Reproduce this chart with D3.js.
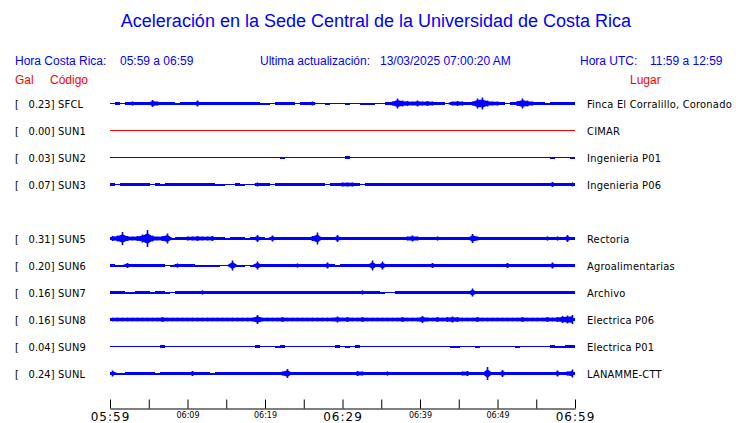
<!DOCTYPE html>
<html>
<head>
<meta charset="utf-8">
<script src="https://cdn.jsdelivr.net/npm/d3@7/dist/d3.min.js"></script>
<style>
  html, body { margin: 0; padding: 0; background: #fff; }
  svg { display: block; }
  .cond { font-family: "DejaVu Sans Condensed", "DejaVu Sans", sans-serif; font-stretch: condensed; }
  .sans { font-family: "Liberation Sans", Arial, sans-serif; }
</style>
</head>
<body>
<script>
// ---------------- DATA ----------------
const title = "Aceleración en la Sede Central de la Universidad de Costa Rica";
const horaCR = "05:59 a 06:59";
const ultima = "13/03/2025 07:00:20 AM";
const horaUTC = "11:59 a 12:59";

const codes = ["SFCL","SUN1","SUN2","SUN3","SUN4","SUN5","SUN6","SUN7","SUN8","SUN9","SUNL"];
const galValues = [0.23, 0.00, 0.03, 0.07, null, 0.31, 0.20, 0.16, 0.16, 0.04, 0.24];
const places = ["Finca El Corralillo, Coronado","CIMAR","Ingenieria P01","Ingenieria P06", null,
                "Rectoria","Agroalimentarias","Archivo","Electrica P06","Electrica P01","LANAMME-CTT"];

// envelope (half amplitude) of each record, sampled along the hour 05:59-06:59
const envSFCL = [0,1.5,0,1.5,2,1.5,1.5,1.5,3.5,2,
  1.5,1.5,1.5,1,1.5,1.5,1.5,3,1.5,1.5,
  1.5,1.5,1.5,1.5,1.5,1.5,1.5,1.5,1.5,1.5,
  1,1,0,1.5,1.5,1.5,1.5,0,1.5,1.5,
  2,0,0,1,0,0,0,1,0,0,
  1,1,1,0,0,1.5,2,5,3,2.5,
  2,3,2,2.5,2,1.5,1.5,0.5,2,2.5,
  2,1.5,2,5,6,3,2,2,1.5,0.5,
  1.5,2.5,5,3,2,1.5,1.5,1,1.5,1.5,
  1.5,1.5,1.5];
const envSUN1 = [0,0,0,0,0,0,0,0,0,0, 0,0,0,0,0,0,0,0,0,0, 0,0,0,0,0,0,0,0,0,0,
  0,0,0,0,0,0,0,0,0,0, 0,0,0,0,0,0,0,0,0,0, 0,0,0,0,0,0,0,0,0,0,
  0,0,0,0,0,0,0,0,0,0, 0,0,0,0,0,0,0,0,0,0, 0,0,0,0,0,0,0,0,0,0, 0,0,0];
const envSUN2 = [0,0,0,0,0,0,0,0,0,0, 0,0,0,0,0,0,0,0,0,0, 0,0,0,0,0,0,0,0,0,0,
  0,0,0,0,1,0,0,0,0,0, 0,0,0,0,0,0,0.5,1.5,0,0, 0,0,0,0,0,0,0,0,0,0,
  0,0,0,0,0,0,0,0,0,0.5, 0,0,0,0.7,0,0,0,0,0,0, 0,0,0,0,0,0,0,0,1,0, 0,0,1];
const envSUN3 = [1.5,0.5,1.5,1.5,1.5,1.5,1.5,1.5,0.5,1.5,
  1,1.5,1.5,1.5,1.5,1.5,1.5,1.5,1.5,1.5,
  1.5,1,1,0.5,0,1.5,1,0,0,2,
  1.5,1.5,0.5,1.5,1.5,1.5,1.5,1.5,1.5,1.5,
  1.5,1.5,1.5,0.5,1.5,1.5,2,2,2,1.5,
  0.5,1.5,1.5,1.5,1.5,1.5,1.5,1.5,1.5,1.5,
  1.5,1.5,1.5,1.5,1.5,1.5,1.5,1.5,1.5,1.5,
  1.5,1.5,1.5,1.5,1.5,1.5,1.5,1.5,1.5,1.5,
  1.5,1.5,1.5,1.5,1.5,1.5,1.5,1.5,2.5,1.5,
  1.5,1.5,2];
const envSUN5 = [2.5,3,6.5,2.5,2,2.5,4,8.5,3,2,
  2.5,5,1,1.5,1.5,2,2,2.5,2,2,
  2.5,1.5,1.5,1,1.5,1.5,1.5,1,1.5,3.5,
  1.5,1,3,1.5,1.5,1.5,1.5,1.5,1.5,1.5,
  2.5,6,1.5,1.5,1.5,3.5,1.5,1.5,1.5,1.5,
  1.5,1.5,1.5,1.5,1.5,1.5,1.5,1.5,1.5,2,
  3,2,1.5,1.5,1.5,2,1.5,1.5,1.5,1.5,
  1.5,1.5,4.5,2,1.5,1.5,1.5,1.5,1.5,1.5,
  1.5,1.5,1.5,1.5,1.5,1.5,1.5,2,1.5,2,
  1.5,3.5,1.5];
const envSUN6 = [1.5,1,1,2.5,1.5,1.5,1.5,1.5,1.5,1.5,
  1.5,0.5,1,2,1.5,1.5,1.5,1,1,1,
  1,1,0.5,0.5,5,1,1,0.5,1,4,
  1.5,1.5,1.5,1.5,1.5,1.5,1.5,2,1.5,1.5,
  1.5,1.5,1.5,3,1.5,1,1.5,1.5,1.5,1.5,
  1.5,1.5,5,1.5,4,1.5,1.5,1.5,1.5,1.5,
  1.5,1.5,1.5,1.5,2.5,1.5,1.5,1.5,1.5,1.5,
  1.5,1.5,1.5,1.5,1.5,1.5,1.5,1.5,1.5,2.5,
  1.5,1.5,1.5,1.5,1.5,1.5,1.5,1.5,3,1.5,
  1.5,1.5,1.5];
const envSUN7 = [1.5,1.5,1.5,1,1,1.5,1.5,1.5,1,1.5,
  1.5,1,0.5,1.5,1.5,1.5,1.5,1.5,2,1.5,
  1.5,1.5,1.5,1.5,1.5,1.5,1.5,1.5,1.5,1.5,
  1.5,1.5,1.5,1.5,1.5,1.5,1.5,1.5,1.5,1.5,
  1.5,1.5,1.5,1.5,1.5,1.5,1.5,1.5,1.5,1.5,
  2,1.5,1.5,1.5,1,0,0.5,1.5,1.5,1.5,
  1.5,1.5,1.5,1.5,1.5,1.5,1.5,1.5,1.5,1.5,
  1.5,1.5,4,1.5,1.5,1.5,1.5,1.5,1.5,1.5,
  1.5,1.5,1.5,1.5,1.5,1.5,1.5,1.5,1.5,1.5,
  1.5,1.5,1.5];
const envSUN8 = [1.8,1.8,1.8,1.8,1.8,1.8,1.8,1.8,1.8,1.8,
  2.5,1.8,1.8,1.8,1.8,1.8,1.8,1.8,1.8,1.8,
  1.8,1.8,1.8,1.8,1.8,1.8,1.8,1.8,1.8,4.5,
  1.8,1.8,1.8,1.8,2.5,1.8,1.8,1.8,1.8,1.8,
  1.8,1.8,1.8,1.8,1.8,3,1.8,2.5,1.8,1.8,
  2.5,1.8,1.8,1.8,1.8,1.8,1.8,1.8,2.5,1.8,
  1.8,1.8,3.5,2,1.8,2.5,1.8,2.5,3,2.5,
  1.8,1.8,1.8,2.5,1.8,1.8,1.8,1.8,1.8,1.8,
  1.8,1.8,2.5,1.8,1.8,1.8,1.8,2.5,2,2.5,
  3.5,4,4.5];
const envSUN9 = [0,0,0,0,0,0,0,0,0,0, 1.5,0,0,0,0,0,0,0,0,0, 0,0,0,0,0,0,0,0,0,1.2,
  0,0,0,1,1.5,0,0,0,0,0, 0,0,0,0,0,1.5,0.5,1,0.5,1.2, 0,0,0,0,0,0,0,0,0,0,
  0,0,0,0,0,0,0,0,1,1, 0,0,0,1,0,0,0,0,0,0, 0,1,0,0,0,0,0,0,1.5,1, 1,1.2,1.2];
const envSUNL = [3,1,1,1.5,1.5,1.5,1.5,1.5,1.5,1,
  1.5,1.5,1.5,1.5,1.5,1.5,2.5,1.5,1.5,1.5,
  1,1.5,1.5,1.5,1.5,1.5,1.5,1.5,1.5,1.5,
  1.5,1.5,1.5,1.5,2,4.5,1.5,1.5,1.5,1.5,
  1.5,1.5,1.5,1.5,1.5,1.5,1.5,1.5,1.5,2.5,
  2,1.5,1.5,1.5,1.5,2,1.5,1.5,1.5,1.5,
  1.5,1.5,1.5,1.5,1.5,1.5,1.5,1.5,1.5,1.5,
  2,2.5,1.5,1.5,1.5,6.5,1.5,1.5,3.5,1.5,
  1.5,1.5,1.5,1.5,1.5,1.5,1.5,1.5,1.5,3,
  1.5,2,4];
const envelopes = [envSFCL, envSUN1, envSUN2, envSUN3, null, envSUN5, envSUN6, envSUN7, envSUN8, envSUN9, envSUNL];

const startTime = "05:59", endTime = "06:59";
const axisTicks = ["05:59","06:04","06:09","06:14","06:19","06:24","06:29","06:34","06:39","06:44","06:49","06:54","06:59"];
const labeledTicks = ["05:59","06:09","06:19","06:29","06:39","06:49","06:59"];
const bigTicks = ["05:59","06:29","06:59"];

// ---------------- CHART ----------------
const W = 740, H = 423;
const svg = d3.select("body").append("svg").attr("width", W).attr("height", H);
const parse = d3.timeParse("%H:%M");
const fmt = d3.timeFormat("%H:%M");
const t0 = parse(startTime), t1 = parse(endTime);

const x = d3.scaleTime().domain([t0, t1]).range([110, 575]);
const y = d3.scalePoint().domain(codes).range([103.5, 373.5]);
const amp = d3.scaleLinear().domain([0, 1]).range([0, 1]);
const BASE = 1.5; // background noise band drawn as blocks; larger peaks drawn as spikes

const BLUE = "#0000ff", RED = "#ff0000";

// title
svg.append("text").attr("class", "sans").attr("x", 376).attr("y", 27)
  .attr("text-anchor", "middle").attr("font-size", 18).attr("fill", BLUE).text(title);

// header
const hdr = svg.append("g").attr("class", "sans").attr("font-size", 12).attr("fill", BLUE);
hdr.append("text").attr("x", 15).attr("y", 65).text("Hora Costa Rica:");
hdr.append("text").attr("x", 120).attr("y", 65).text(horaCR);
hdr.append("text").attr("x", 260).attr("y", 65).text("Ultima actualización:");
hdr.append("text").attr("x", 380).attr("y", 65).text(ultima);
hdr.append("text").attr("x", 580).attr("y", 65).text("Hora UTC:");
hdr.append("text").attr("x", 650).attr("y", 65).text(horaUTC);

const sub = svg.append("g").attr("class", "sans").attr("font-size", 12).attr("fill", RED);
sub.append("text").attr("x", 15).attr("y", 84).text("Gal");
sub.append("text").attr("x", 50).attr("y", 84).text("Código");
sub.append("text").attr("x", 630).attr("y", 84).text("Lugar");

// records
const rows = codes.map((c, i) => ({ code: c, gal: galValues[i], place: places[i], env: envelopes[i] }))
  .filter(d => d.env);

const stepArea = d3.area().curve(d3.curveStepAfter);
const peakArea = d3.area().curve(d3.curveLinear);

rows.forEach(r => {
  const n = r.env.length;
  const span = (t1 - t0) / n;
  const cy = y(r.code);
  const color = r.gal === 0 ? RED : BLUE;
  const g = svg.append("g");
  g.append("line").attr("x1", x(t0)).attr("x2", x(t1)).attr("y1", cy).attr("y2", cy)
    .attr("stroke", color).attr("stroke-width", 1);

  // noise band (blocks)
  const base = r.env.map((v, i) => ({ t: new Date(+t0 + i * span), v: Math.min(v, BASE) }));
  base.push({ t: t1, v: base[n - 1].v });
  stepArea.x(d => x(d.t)).y0(d => cy - amp(d.v)).y1(d => cy + amp(d.v));
  g.append("path").attr("d", stepArea(base)).attr("fill", color).attr("shape-rendering", "crispEdges");

  // burst body (reduced spindle through window centres)
  const body = r.env.map((v, i) => ({ t: new Date(+t0 + (i + 0.5) * span), v: v > BASE ? BASE + (v - BASE) * 0.55 : Math.min(v, 0.5) }));
  peakArea.x(d => x(d.t)).y0(d => cy - amp(d.v)).y1(d => cy + amp(d.v));
  g.append("path").attr("d", peakArea(body)).attr("fill", color);

  // peak spikes at full amplitude
  g.selectAll("line.pk").data(r.env.map((v, i) => ({ i, v })).filter(d => d.v > BASE))
    .join("line").attr("class", "pk")
    .attr("x1", d => x(new Date(+t0 + (d.i + 0.5) * span)))
    .attr("x2", d => x(new Date(+t0 + (d.i + 0.5) * span)))
    .attr("y1", d => cy - amp(d.v)).attr("y2", d => cy + amp(d.v))
    .attr("stroke", color).attr("stroke-width", 1.6);

  const lab = svg.append("g").attr("class", "cond").attr("font-size", 11).attr("fill", "#000");
  lab.append("text").attr("x", 15).attr("y", cy + 4).text("[");
  lab.append("text").attr("x", 54.5).attr("y", cy + 4).attr("text-anchor", "end").text(r.gal.toFixed(2) + "]");
  lab.append("text").attr("x", 58).attr("y", cy + 4).attr("letter-spacing", 0.2).text(r.code);
  lab.append("text").attr("x", 587).attr("y", cy + 4).attr("letter-spacing", 0.22).text(r.place);
});

// time axis
const axis = d3.axisBottom(x)
  .tickValues(axisTicks.map(parse))
  .tickSizeInner(-9).tickSizeOuter(0)
  .tickFormat(d => labeledTicks.includes(fmt(d)) ? fmt(d) : "");
const ag = svg.append("g").attr("transform", "translate(0,408.5)").call(axis);
ag.select(".domain").attr("stroke", "#000");
ag.selectAll(".tick line").attr("stroke", "#000");
ag.selectAll(".tick text")
  .attr("font-family", "DejaVu Sans, sans-serif")
  .attr("fill", "#000")
  .attr("dy", null)
  .each(function(d) {
    const big = bigTicks.includes(fmt(d));
    d3.select(this)
      .attr("font-size", big ? 12 : 8)
      .attr("letter-spacing", big ? 1 : 0)
      .attr("y", big ? 12.5 : 9);
  });
</script>
</body>
</html>
